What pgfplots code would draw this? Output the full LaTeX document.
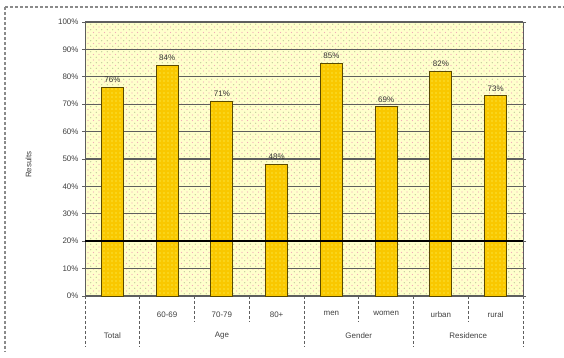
\documentclass[border=0pt]{standalone}
\usepackage{pgfplots}
\pgfplotsset{compat=1.18}
\usepackage{fontspec}
\setmainfont{Liberation Sans}
\usetikzlibrary{patterns.meta}

\definecolor{paper}{HTML}{FFFFCC}
\definecolor{bargold}{HTML}{F9C800}
\definecolor{barline}{HTML}{5A4A00}
\definecolor{gridgray}{HTML}{5E5E5E}
\definecolor{dotpink}{HTML}{F2A8B8}
\definecolor{dotgreen}{HTML}{B8C490}
\definecolor{framegray}{HTML}{8A8A8A}

\begin{document}
\begin{tikzpicture}[x=1bp,y=1bp]
\useasboundingbox (0,0) rectangle (564,357);
% dashed frame along the top and left
\draw[framegray, densely dashed, line width=1.2bp] (5,350) -- (564,350);
\draw[framegray, densely dashed, line width=1.2bp] (5,350) -- (5,5);

\begin{axis}[
  at={(85bp,61bp)}, anchor=south west,
  scale only axis, width=438bp, height=274bp,
  xmin=-0.5, xmax=7.5, ymin=0, ymax=100,
  clip=false,
  axis background/.style={fill=paper,
    postaction={pattern={Dots[distance=5.5bp, radius=0.6bp]}, pattern color=dotpink},
    postaction={pattern={Dots[distance=5.5bp, radius=0.55bp, xshift=2.75bp, yshift=2.75bp]}, pattern color=dotgreen}},
  axis line style={gridgray, line width=0.9bp},
  ytick={0,10,...,100},
  yticklabel={\pgfmathprintnumber[assume math mode=true]{\tick}\%},
  yticklabel style={font=\fontsize{8}{9.5}\selectfont, text=black!75},
  ytick style={gridgray, line width=0.8bp},
  tick align=outside, major tick length=3bp,
  ymajorgrids, major grid style={gridgray, line width=1.1bp},
  xtick=data,
  xticklabels={,60-69,70-79,80+,men,women,urban,rural},
  xticklabel style={font=\fontsize{8}{9.5}\selectfont, text=black!75, yshift=-9bp},
  xtick style={draw=none},
  ylabel={Results},
  ylabel style={font=\fontsize{8}{9.5}\selectfont, text=black!75, at={(-50bp,0.48)}},
  ybar, bar width=22bp,
  nodes near coords={\pgfmathprintnumber[assume math mode=true]{\pgfplotspointmeta}\%},
  nodes near coords style={font=\fontsize{8}{9.5}\selectfont, text=black!80, yshift=1bp},
]
\addplot[fill=bargold, draw=barline, line width=1bp,
  postaction={pattern={Dots[distance=4bp, radius=0.65bp]}, pattern color=yellow!55}]
  coordinates {(0,76) (1,84) (2,71) (3,48) (4,85) (5,69) (6,82) (7,73)};
% heavy reference line at 20%
\addplot[sharp plot, black, line width=1.6bp, nodes near coords={}, forget plot]
  coordinates {(-0.5,20) (7.5,20)};

% separators of the category table below the plot
\pgfplotsinvokeforeach{-0.5,0.5,3.5,5.5,7.5}{
  \draw[gridgray, densely dashed, line width=0.9bp] (axis cs:#1,0) -- ([yshift=-50bp]axis cs:#1,0);}
\pgfplotsinvokeforeach{1.5,2.5,4.5,6.5}{
  \draw[gridgray, densely dashed, line width=0.9bp] (axis cs:#1,0) -- ([yshift=-26bp]axis cs:#1,0);}

\node[font=\fontsize{8}{9.5}\selectfont, text=black!75] at ([yshift=-40bp]axis cs:0,0) {Total};
\node[font=\fontsize{8}{9.5}\selectfont, text=black!75] at ([yshift=-40bp]axis cs:2,0) {Age};
\node[font=\fontsize{8}{9.5}\selectfont, text=black!75] at ([yshift=-40bp]axis cs:4.5,0) {Gender};
\node[font=\fontsize{8}{9.5}\selectfont, text=black!75] at ([yshift=-40bp]axis cs:6.5,0) {Residence};
\end{axis}
\end{tikzpicture}
\end{document}
